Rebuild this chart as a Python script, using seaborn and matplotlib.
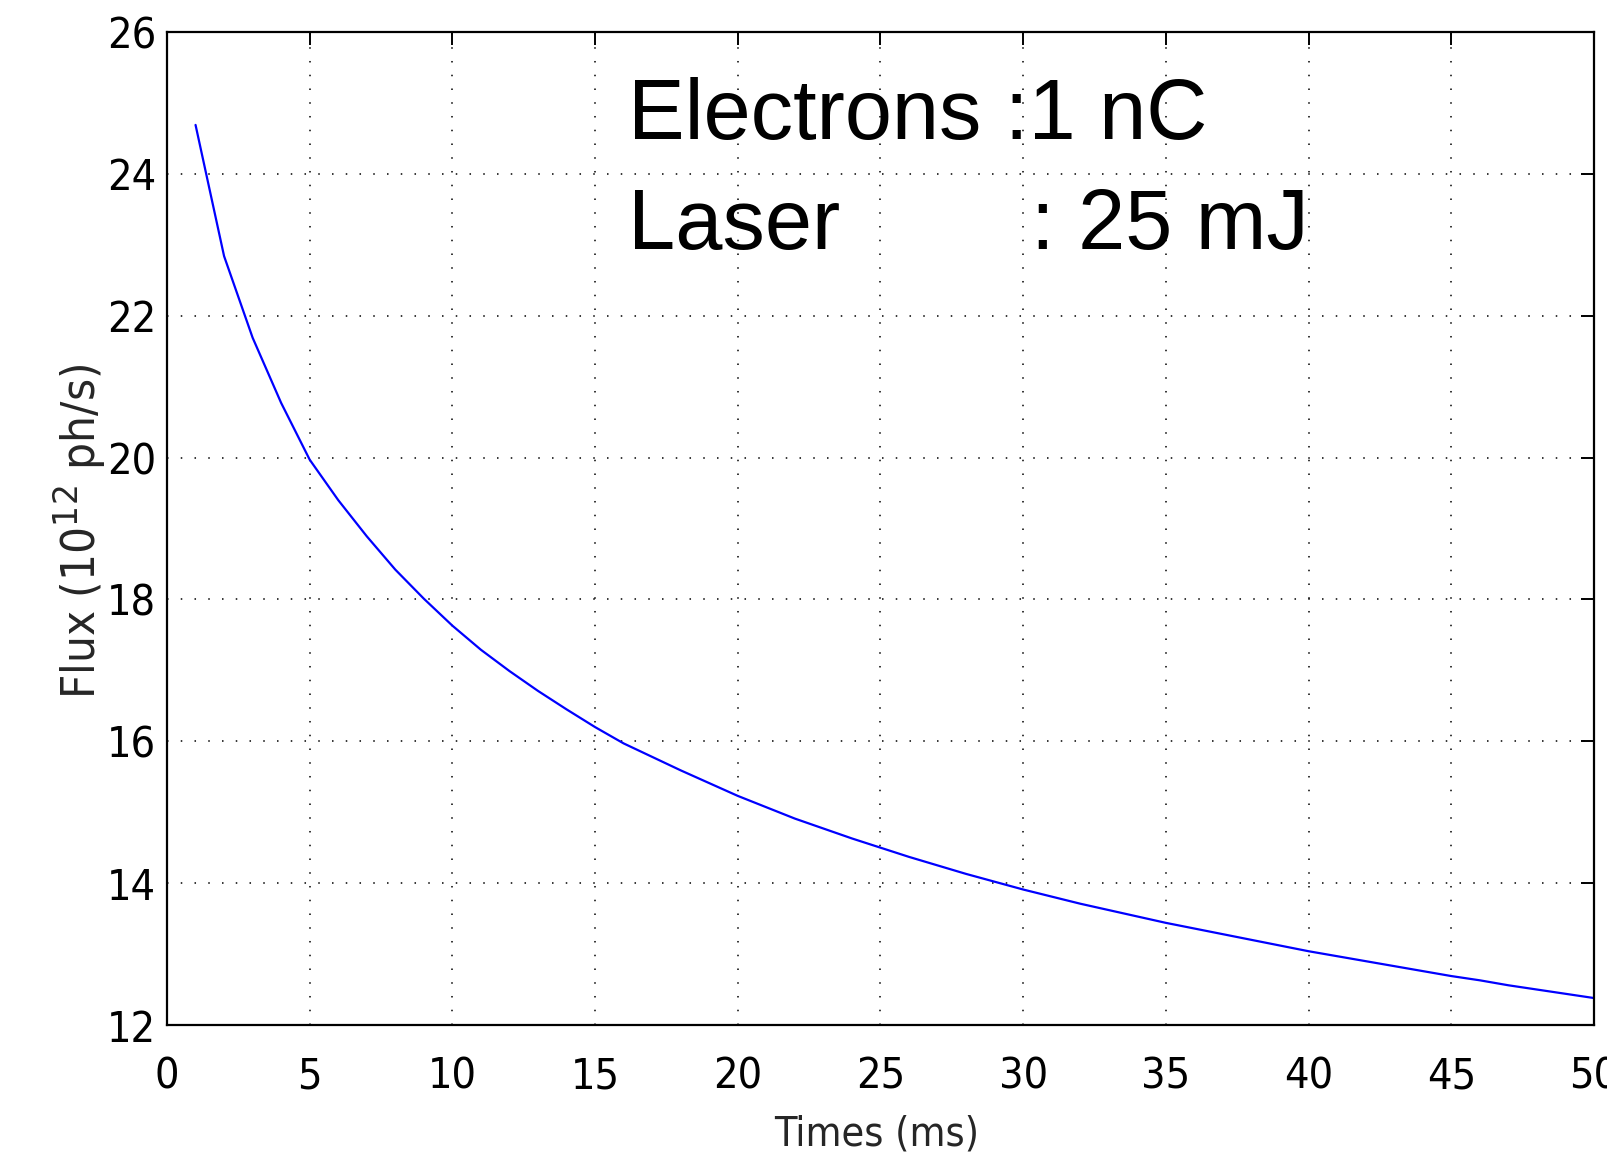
import matplotlib
matplotlib.use("Agg")
import matplotlib.pyplot as plt
from matplotlib import font_manager
import seaborn as sns
import pandas as pd

# ---- data ----
times_ms = [1, 2, 3, 4, 5, 6, 7, 8, 9, 10, 11, 12, 13, 14, 15, 16, 17, 18, 19, 20,
            21, 22, 23, 24, 25, 26, 27, 28, 29, 30, 31, 32, 33, 34, 35, 36, 37, 38, 39, 40,
            41, 42, 43, 44, 45, 46, 47, 48, 49, 50]
flux = [24.69, 22.84, 21.69, 20.77, 19.97, 19.40, 18.89, 18.42, 18.01, 17.63,
        17.29, 16.99, 16.71, 16.45, 16.20, 15.97, 15.78, 15.59, 15.41, 15.23,
        15.07, 14.91, 14.77, 14.63, 14.50, 14.37, 14.25, 14.13, 14.02, 13.91,
        13.81, 13.71, 13.62, 13.53, 13.44, 13.36, 13.28, 13.20, 13.12, 13.04,
        12.97, 12.90, 12.83, 12.76, 12.69, 12.63, 12.56, 12.50, 12.44, 12.38]
xticks = [0, 5, 10, 15, 20, 25, 30, 35, 40, 45, 50]
yticks = [12, 14, 16, 18, 20, 22, 24, 26]
annot_line1 = "Electrons :1 nC"
annot_line2a = "Laser"
annot_line2b = ": 25 mJ"

df = pd.DataFrame({"t": times_ms, "flux": flux})

sns.set_style("white")

# pick a narrow sans font if one is installed
narrow = None
cands = []
for f in font_manager.fontManager.ttflist:
    st = str(f.stretch)
    if ("Narrow" in f.name or "Condensed" in f.name or st in ("condensed", "semi-condensed", "extra-condensed")
            or (isinstance(f.stretch, int) and f.stretch < 500)) and f.style == "normal":
        cands.append(f)
pref = ["Liberation Sans Narrow", "DejaVu Sans", "Roboto", "Noto Sans", "Open Sans"]
for p in pref:
    for f in cands:
        if f.name.startswith(p) and f.weight in (400, "normal", "regular"):
            narrow = f
            break
    if narrow:
        break
if narrow is None and cands:
    narrow = cands[0]
if narrow is not None:
    tick_fp = font_manager.FontProperties(fname=narrow.fname)
    font_name = narrow.name
else:
    tick_fp = font_manager.FontProperties(family="Liberation Sans")
    font_name = "Liberation Sans"

plt.rcParams["font.family"] = [font_name, "DejaVu Sans"]
plt.rcParams["mathtext.fontset"] = "custom"
plt.rcParams["mathtext.rm"] = font_name

W, H = 1608, 1161
fig = plt.figure(figsize=(W / 100, H / 100), dpi=100)
ax = fig.add_axes([167 / W, 1 - 1025 / H, (1594 - 167) / W, (1025 - 32) / H])

sns.lineplot(data=df, x="t", y="flux", ax=ax, color="#0000ff", linewidth=1.6)

ax.set_xlim(0, 50)
ax.set_ylim(12, 26)
ax.set_xticks(xticks)
ax.set_yticks(yticks)
ax.set_xticklabels([str(v) for v in xticks])
ax.set_yticklabels([str(v) for v in yticks])

ax.grid(True, color="black", linestyle=(0, (1, 8)), linewidth=1.1)
for s in ax.spines.values():
    s.set_visible(True)
    s.set_color("black")
    s.set_linewidth(1.6)

ax.tick_params(axis="both", which="both", direction="in", length=9.5, width=1.4,
               top=True, right=True, colors="black")
ax.tick_params(axis="x", pad=22)
ax.tick_params(axis="y", pad=8)
for lab in ax.get_xticklabels() + ax.get_yticklabels():
    lab.set_fontproperties(tick_fp)
    lab.set_fontsize(31)

ax.set_xlabel("Times (ms)", fontproperties=tick_fp, fontsize=29.5)
ax.set_ylabel(r"Flux (10$^{12}$ ph/s)", fontproperties=tick_fp, fontsize=34)
ax.xaxis.set_label_coords(0.4975, -0.090)
ax.yaxis.set_label_coords(-0.041, 0.4975)

txt_kw = dict(fontsize=61, family=["Liberation Sans", "DejaVu Sans"], color="black",
              va="baseline", ha="left")
fig.text(628 / W, 1 - 139 / H, annot_line1, **txt_kw)
fig.text(628 / W, 1 - 249 / H, annot_line2a, **txt_kw)
fig.text(1031 / W, 1 - 249 / H, annot_line2b, **txt_kw)

fig.savefig("out.png", dpi=100)
